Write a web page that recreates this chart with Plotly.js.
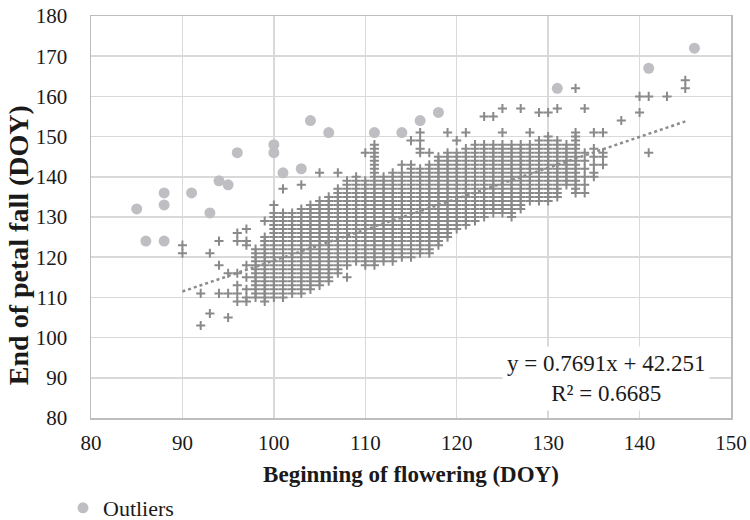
<!DOCTYPE html>
<html>
<head>
<meta charset="utf-8">
<script src="https://cdn.plot.ly/plotly-3.0.1.min.js"></script>
<style>
  html, body { margin: 0; padding: 0; background: #ffffff; }
  #chart { width: 750px; height: 520px; }
</style>
</head>
<body>
<div id="chart"></div>
<script>
// Observations: beginning of flowering (x, DOY) against end of petal fall (y, DOY).
// Each entry of plusDays is one flowering day; the matching entry of plusValues
// lists every petal-fall day observed for it.
const plusDays = [90, 92, 93, 94, 95, 96, 97, 98, 99, 100, 101, 102, 103, 104, 105, 106, 107, 108, 109, 110,
  111, 112, 113, 114, 115, 116, 117, 118, 119, 120, 121, 122, 123, 124, 125, 126, 127, 128, 129, 130,
  131, 132, 133, 134, 135, 136, 138, 140, 141, 143, 145];
const plusValues = [
  [121, 123],
  [103, 111],
  [106, 121],
  [111, 118, 124],
  [105, 111, 116],
  [109, 111, 113, 116, 124, 126],
  [109, 110, 112, 115, 118, 123, 124, 127],
  [110, 111, 112, 113, 114, 115, 116, 117, 118, 119, 120, 121, 122],
  [109, 110, 111, 112, 113, 114, 115, 116, 117, 118, 119, 120, 121, 122, 123, 124, 125, 129],
  [110, 111, 112, 113, 114, 115, 116, 117, 118, 119, 120, 121, 122, 123, 124, 125, 126, 127, 128, 129, 130, 131, 133],
  [110, 111, 112, 113, 114, 115, 116, 117, 118, 119, 120, 121, 122, 123, 124, 125, 126, 127, 128, 129, 130, 131, 137],
  [111, 112, 113, 114, 115, 116, 117, 118, 119, 120, 121, 122, 123, 124, 125, 126, 127, 128, 129, 130, 131],
  [111, 112, 113, 114, 115, 116, 117, 118, 119, 120, 121, 122, 123, 124, 125, 126, 127, 128, 129, 130, 131, 132, 138],
  [112, 113, 114, 115, 116, 117, 118, 119, 120, 121, 122, 123, 124, 125, 126, 127, 128, 129, 130, 131, 132, 133],
  [113, 114, 115, 116, 117, 118, 119, 120, 121, 122, 123, 124, 125, 126, 127, 128, 129, 130, 131, 132, 133, 134, 141],
  [114, 115, 116, 117, 118, 119, 120, 121, 122, 123, 124, 125, 126, 127, 128, 129, 130, 131, 132, 133, 134, 135],
  [116, 117, 118, 119, 120, 121, 122, 123, 124, 125, 126, 127, 128, 129, 130, 131, 132, 133, 134, 135, 136, 137, 141],
  [115, 118, 119, 120, 121, 122, 123, 124, 125, 126, 127, 128, 129, 130, 131, 132, 133, 134, 135, 136, 137, 138, 139],
  [119, 120, 121, 122, 123, 124, 125, 126, 127, 128, 129, 130, 131, 132, 133, 134, 135, 136, 137, 138, 139, 140],
  [118, 119, 120, 121, 122, 123, 124, 125, 126, 127, 128, 129, 130, 131, 132, 133, 134, 135, 136, 137, 138, 139, 146],
  [118, 119, 120, 121, 122, 123, 124, 125, 126, 127, 128, 129, 130, 131, 132, 133, 134, 135, 136, 137, 138, 139, 140, 141, 142, 143, 144, 145, 146, 147, 148],
  [119, 120, 121, 122, 123, 124, 125, 126, 127, 128, 129, 130, 131, 132, 133, 134, 135, 136, 137, 138, 139, 140],
  [119, 120, 121, 122, 123, 124, 125, 126, 127, 128, 129, 130, 131, 132, 133, 134, 135, 136, 137, 138, 139, 140, 141],
  [120, 121, 122, 123, 124, 125, 126, 127, 128, 129, 130, 131, 132, 133, 134, 135, 136, 137, 138, 139, 140, 141, 143],
  [120, 121, 122, 123, 124, 125, 126, 127, 128, 129, 130, 131, 132, 133, 134, 135, 136, 137, 138, 139, 140, 141, 142, 143, 149],
  [121, 122, 123, 124, 125, 126, 127, 128, 129, 130, 131, 132, 133, 134, 135, 136, 137, 138, 139, 140, 141, 142, 146, 147, 149, 151],
  [121, 122, 123, 124, 125, 126, 127, 128, 129, 130, 131, 132, 133, 134, 135, 136, 137, 138, 139, 140, 141, 142, 143, 146],
  [123, 124, 125, 126, 127, 128, 129, 130, 131, 132, 133, 134, 135, 136, 137, 138, 139, 140, 141, 142, 143, 144, 145],
  [125, 126, 127, 128, 129, 130, 131, 132, 133, 134, 135, 136, 137, 138, 139, 140, 141, 142, 143, 144, 145, 146, 151],
  [127, 128, 129, 130, 131, 132, 133, 134, 135, 136, 137, 138, 139, 140, 141, 142, 143, 144, 145, 146, 149],
  [128, 129, 130, 131, 132, 133, 134, 135, 136, 137, 138, 139, 140, 141, 142, 143, 144, 145, 146, 147, 151],
  [129, 130, 131, 132, 133, 134, 135, 136, 137, 138, 139, 140, 141, 142, 143, 144, 145, 146, 147, 148],
  [130, 131, 132, 133, 134, 135, 136, 137, 138, 139, 140, 141, 142, 143, 144, 145, 146, 147, 148, 155],
  [131, 132, 133, 134, 135, 136, 137, 138, 139, 140, 141, 142, 143, 144, 145, 146, 147, 148, 155],
  [131, 132, 133, 134, 135, 136, 137, 138, 139, 140, 141, 142, 143, 144, 145, 146, 147, 148, 151, 157],
  [130, 131, 132, 133, 134, 135, 136, 137, 138, 139, 140, 141, 142, 143, 144, 145, 146, 147, 148],
  [132, 133, 134, 135, 136, 137, 138, 139, 140, 141, 142, 143, 144, 145, 146, 147, 148, 157],
  [134, 135, 136, 137, 138, 139, 140, 141, 142, 143, 144, 145, 146, 147, 148, 151],
  [134, 135, 136, 137, 138, 139, 140, 141, 142, 143, 144, 145, 146, 147, 148, 149, 156],
  [134, 135, 136, 137, 138, 139, 140, 141, 142, 143, 144, 145, 146, 147, 148, 149, 150, 156],
  [135, 136, 137, 138, 139, 140, 141, 142, 143, 144, 145, 146, 147, 148, 149, 157],
  [138, 139, 140, 141, 142, 143, 144, 145, 146, 147, 148],
  [136, 137, 138, 139, 140, 141, 142, 143, 144, 145, 146, 147, 148, 149, 150, 151, 162],
  [136, 138, 140, 142, 144, 146, 157],
  [140, 141, 143, 145, 147, 151],
  [143, 145, 146, 151],
  [154],
  [156, 160],
  [146, 160],
  [160],
  [162, 164]
];

// Outlying observations
const outlierDays = [85, 86, 88, 88, 88, 91, 93, 94, 95, 96, 100, 100, 101, 103, 104, 106, 111, 114, 116, 118, 131, 141, 146];
const outlierValues = [132, 124, 136, 133, 124, 136, 131, 139, 138, 146, 148, 146, 141, 142, 154, 151, 151, 151, 154, 156, 162, 167, 172];

// Linear fit of the observations
const fitSlope = 0.7691;
const fitIntercept = 42.251;
const fitR2 = 0.6685;
const fitRange = [90, 145];

const xTicks = [80, 90, 100, 110, 120, 130, 140, 150];
const yTicks = [80, 90, 100, 110, 120, 130, 140, 150, 160, 170, 180];

// Flatten the per-day lists into x/y pairs
const px = [], py = [];
plusDays.forEach((d, i) => plusValues[i].forEach(v => { px.push(d); py.push(v); }));

const fitX = fitRange.slice();
const fitY = fitX.map(x => fitSlope * x + fitIntercept);

const FONT = 'Liberation Serif';
const TEXT = '#1a1a1a';

const traces = [
  {
    type: 'scatter', mode: 'markers', x: px, y: py, name: 'Observations', showlegend: false,
    hoverinfo: 'x+y',
    marker: { symbol: 'cross-thin', size: 6.5, color: '#8a8a8a', line: { color: '#8a8a8a', width: 2 } }
  },
  {
    type: 'scatter', mode: 'lines', x: fitX, y: fitY, name: 'Linear fit', showlegend: false,
    line: { color: '#8c8c8c', width: 2.5, dash: 'dot' }, hoverinfo: 'skip'
  },
  {
    type: 'scatter', mode: 'markers', x: outlierDays, y: outlierValues, name: 'Outliers', showlegend: true,
    marker: { symbol: 'circle', size: 11, color: '#bfbfc3', line: { width: 0 } }
  }
];

const axisBase = {
  showgrid: true, gridcolor: '#d9d9d9', gridwidth: 1.5,
  showline: true, linecolor: '#bdbdbd', linewidth: 1.5, mirror: true,
  zeroline: false, ticks: '', tickmode: 'array', automargin: false,
  tickfont: { family: FONT, size: 21, color: TEXT }
};

const layout = {
  width: 750, height: 520,
  margin: { l: 91, r: 19, t: 16, b: 102 },
  paper_bgcolor: '#ffffff', plot_bgcolor: '#ffffff',
  font: { family: FONT, size: 21, color: TEXT },
  xaxis: Object.assign({}, axisBase, {
    range: [80, 150], tickvals: xTicks, ticktext: xTicks.map(String),
    ticklabelstandoff: 5,
    title: { text: '<b>Beginning of flowering (DOY)</b>', font: { family: FONT, size: 23, color: TEXT } }
  }),
  yaxis: Object.assign({}, axisBase, {
    range: [80, 180], tickvals: yTicks, ticktext: yTicks.map(String),
    ticklabelstandoff: 18
  }),
  showlegend: true,
  legend: {
    orientation: 'h', xref: 'container', yref: 'container',
    x: 0.084, xanchor: 'left', y: 0.023, yanchor: 'middle',
    font: { family: FONT, size: 22, color: TEXT }, bgcolor: 'rgba(0,0,0,0)', itemwidth: 30
  },
  annotations: [
    // y-axis title, set a little below the plot-area centre
    {
      xref: 'paper', yref: 'paper', x: -0.114, y: 0.43, xanchor: 'center', yanchor: 'middle',
      showarrow: false, textangle: -90,
      text: '<b>End of petal fall (DOY)</b>',
      font: { family: FONT, size: 28, color: TEXT }
    },
    {
      xref: 'x', yref: 'y', x: 136.3, y: 89.9, showarrow: false,
      text: 'y = ' + fitSlope + 'x + ' + fitIntercept + '<br>R² = ' + fitR2,
      font: { family: FONT, size: 23, color: TEXT },
      bgcolor: '#ffffff', borderpad: 4, align: 'center'
    }
  ]
};

Plotly.newPlot('chart', traces, layout, { staticPlot: true, displayModeBar: false });
</script>
</body>
</html>
